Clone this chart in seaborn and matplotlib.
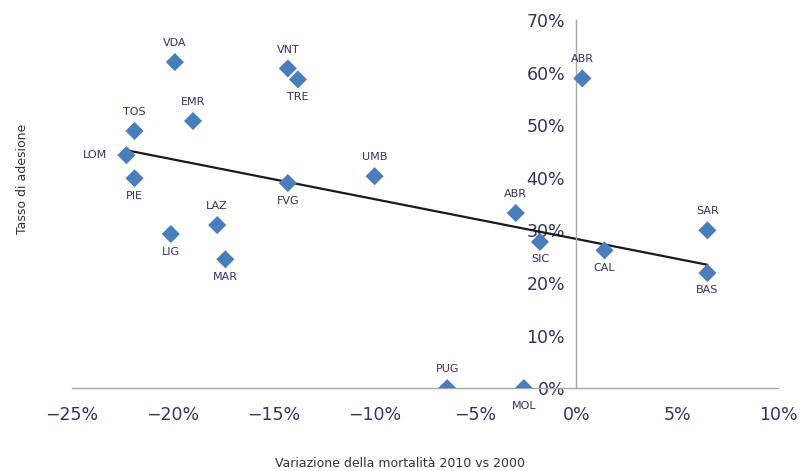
import numpy as np
import pandas as pd
import matplotlib.pyplot as plt
import seaborn as sns
from matplotlib.ticker import PercentFormatter

# regioni, variazione mortalita' (%), tasso di adesione (%)
regions = ['VDA', 'VNT', 'TRE', 'EMR', 'TOS', 'LOM', 'PIE', 'FVG', 'UMB', 'LAZ',
           'LIG', 'MAR', 'ABR', 'ABR', 'SIC', 'CAL', 'SAR', 'BAS', 'PUG', 'MOL']
mortality_change = [-19.9, -14.3, -13.8, -19.0, -21.9, -22.3, -21.9, -14.3, -10.0, -17.8,
                    -20.1, -17.4, 0.3, -3.0, -1.8, 1.4, 6.5, 6.5, -6.4, -2.6]
adhesion_rate = [62.0, 60.8, 58.7, 50.8, 48.9, 44.3, 39.9, 39.0, 40.3, 31.0,
                 29.3, 24.5, 58.9, 33.3, 27.8, 26.2, 30.0, 21.9, 0.0, 0.0]
x_ticks = [-25, -20, -15, -10, -5, 0, 5, 10]
y_ticks = [0, 10, 20, 30, 40, 50, 60, 70]

# where each label goes relative to its point
label_side = ['up', 'up', 'down', 'up', 'up', 'left', 'down', 'down', 'up', 'up',
              'down', 'down', 'up', 'up', 'down', 'down', 'up', 'down', 'up', 'down']

df = pd.DataFrame({'region': regions, 'x': mortality_change, 'y': adhesion_rate})

sns.set_style('white')
plt.rcParams['font.family'] = ['DejaVu Sans']

fig = plt.figure(figsize=(8, 4.71), dpi=100)
ax = fig.add_axes([0.09, 0.176, 0.8825, 0.7815])

sns.regplot(data=df, x='x', y='y', scatter=False, ci=None, ax=ax,
            line_kws={'color': '#1a1a1a', 'lw': 1.6})
sns.scatterplot(data=df, x='x', y='y', marker='D', s=85, color='#4a7ebb',
                edgecolor='none', ax=ax, zorder=3)

text_col = '#33335e'
offsets = {'up': (0, 10, 'center', 'bottom'), 'down': (0, -9, 'center', 'top'),
           'left': (-14, 0, 'right', 'center')}
for r, xv, yv, side in zip(regions, mortality_change, adhesion_rate, label_side):
    dx, dy, ha, va = offsets[side]
    ax.annotate(r, (xv, yv), xytext=(dx, dy), textcoords='offset points',
                ha=ha, va=va, fontsize=8, color=text_col)

ax.set_xlim(-25, 10)
ax.set_ylim(0, 70)
ax.set_xticks(x_ticks)
ax.set_yticks(y_ticks)
ax.xaxis.set_major_formatter(PercentFormatter(decimals=0))
ax.yaxis.set_major_formatter(PercentFormatter(decimals=0))

for s in ['top', 'right']:
    ax.spines[s].set_visible(False)
ax.spines['left'].set_position(('data', 0))
ax.spines['bottom'].set_position(('data', 0))
for s in ['left', 'bottom']:
    ax.spines[s].set_color('#a8a8a8')
    ax.spines[s].set_linewidth(1.0)

ax.tick_params(axis='both', which='major', direction='out', length=5, width=1,
               color='#a8a8a8', labelsize=12.5, labelcolor=text_col)
ax.tick_params(axis='x', pad=8)
ax.tick_params(axis='y', pad=3)

ax.set_xlabel('')
ax.set_ylabel('')
fig.text(0.5, 0.003, 'Variazione della mortalità 2010 vs 2000', ha='center', va='bottom',
         fontsize=9, color='#333333')
fig.text(0.028, 0.62, 'Tasso di adesione', ha='center', va='center', rotation=90,
         fontsize=9, color='#333333')

fig.savefig('out.png', dpi=100)
